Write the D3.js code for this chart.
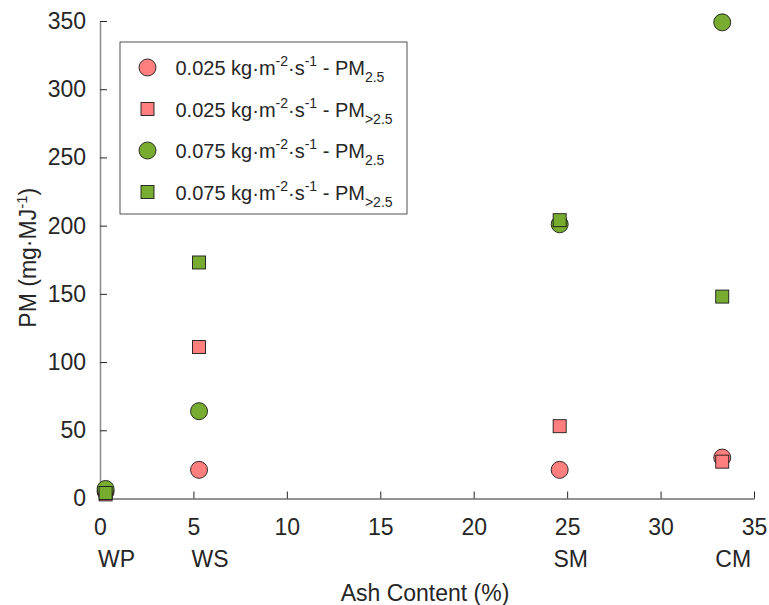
<!DOCTYPE html>
<html>
<head>
<meta charset="utf-8">
<script src="https://cdn.jsdelivr.net/npm/d3@7"></script>
<style>
  body { margin: 0; background: #fff; }
  text { font-family: "Liberation Sans", Arial, sans-serif; fill: #262626; }
</style>
</head>
<body>
<div id="chart"></div>
<script>
// data
var fuels = ["WP", "WS", "SM", "CM"];
var ashContent = [0.3, 5.3, 24.6, 33.3];
var low25 = [5, 21, 21, 30];        // 0.025 kg m-2 s-1, PM2.5
var lowOver25 = [3, 111, 53, 27];   // 0.025 kg m-2 s-1, PM>2.5
var high25 = [7, 64, 201, 349];     // 0.075 kg m-2 s-1, PM2.5
var highOver25 = [4, 173, 204, 148];// 0.075 kg m-2 s-1, PM>2.5
var xTicks = [0, 5, 10, 15, 20, 25, 30, 35];
var yTicks = [0, 50, 100, 150, 200, 250, 300, 350];

var svgWidth = 769, svgHeight = 605;
var margin = {top: 21, right: 15, bottom: 106.5, left: 100};
var width = svgWidth - margin.left - margin.right;
var height = svgHeight - margin.top - margin.bottom;

var pink = "#ff7f7f", green = "#77ac30";

var series = [
  {vals: low25, shape: "circle", color: pink, flow: "0.025", pm: "2.5"},
  {vals: lowOver25, shape: "square", color: pink, flow: "0.025", pm: ">2.5"},
  {vals: high25, shape: "circle", color: green, flow: "0.075", pm: "2.5"},
  {vals: highOver25, shape: "square", color: green, flow: "0.075", pm: ">2.5"}
];

var svg = d3.select("#chart").append("svg")
    .attr("width", svgWidth)
    .attr("height", svgHeight)
  .append("g")
    .attr("transform", "translate(" + margin.left + "," + margin.top + ")");

var x = d3.scaleLinear().domain([0, 35]).range([0, width]);
var y = d3.scaleLinear().domain([0, 350]).range([height, 0]);

// axes, ticks pointing inward like matlab
var xAxis = svg.append("g")
    .attr("transform", "translate(0," + height + ")")
    .call(d3.axisBottom(x).tickValues(xTicks).tickSizeInner(-7).tickSizeOuter(0).tickPadding(20));
var yAxis = svg.append("g")
    .call(d3.axisLeft(y).tickValues(yTicks).tickSizeInner(-7).tickSizeOuter(0).tickPadding(14));

[xAxis, yAxis].forEach(function(a) {
  a.select(".domain").attr("stroke", "#262626").attr("stroke-width", 1.2);
  a.selectAll(".tick line").attr("stroke", "#262626");
  a.selectAll(".tick text").style("font-size", "23px").attr("fill", "#262626")
    .style("font-family", "'Liberation Sans', Arial, sans-serif");
});
yAxis.select(".domain").attr("stroke", "#8a8a8a").attr("stroke-width", 1.5);

// fuel names under the tick labels
svg.append("g").selectAll("text")
  .data(fuels)
  .enter()
  .append("text")
    .attr("x", function(d, i) { return x(ashContent[i]) + 11; })
    .attr("y", height + 68)
    .attr("text-anchor", "middle")
    .style("font-size", "23px")
    .text(function(d) { return d; });

// axis titles
svg.append("text")
    .attr("x", width / 2 - 2)
    .attr("y", height + 102)
    .attr("text-anchor", "middle")
    .style("font-size", "23px")
    .text("Ash Content (%)");

var yl = svg.append("text")
    .attr("transform", "translate(-64," + (height / 2 - 2) + ") rotate(-90)")
    .attr("text-anchor", "middle")
    .style("font-size", "23px");
yl.append("tspan").text("PM (mg·MJ");
yl.append("tspan").attr("dy", -9).style("font-size", "15px").text("-1");
yl.append("tspan").attr("dy", 9).text(")");

// markers
function drawMarker(sel, s) {
  if (s.shape === "circle") {
    sel.append("circle").attr("r", 8.5);
  } else {
    sel.append("rect").attr("x", -6.5).attr("y", -6.5).attr("width", 13).attr("height", 13);
  }
  sel.selectAll("circle, rect")
    .attr("fill", s.color)
    .attr("stroke", "#1a1a1a")
    .attr("stroke-width", 0.9);
}

series.forEach(function(s) {
  svg.append("g").selectAll("g")
    .data(s.vals)
    .enter()
    .append("g")
      .attr("transform", function(d, i) { return "translate(" + x(ashContent[i]) + "," + y(d) + ")"; })
      .each(function() { drawMarker(d3.select(this), s); });
});

// legend
var legend = svg.append("g").attr("transform", "translate(20,21)");
legend.append("rect")
    .attr("width", 287).attr("height", 172)
    .attr("fill", "#fff").attr("stroke", "#262626").attr("stroke-width", 0.8);

series.forEach(function(s, i) {
  var row = legend.append("g").attr("transform", "translate(0," + (25.5 + i * 41.5) + ")");
  var m = row.append("g").attr("transform", "translate(27.5,0)");
  drawMarker(m, s);
  var t = row.append("text").attr("x", 55.5).attr("y", 7.5).style("font-size", "20px");
  t.append("tspan").text(s.flow + " kg·m");
  t.append("tspan").attr("dy", -9).style("font-size", "14px").text("-2");
  t.append("tspan").attr("dy", 9).text("·s");
  t.append("tspan").attr("dy", -9).style("font-size", "14px").text("-1");
  t.append("tspan").attr("dy", 9).text(" - PM");
  t.append("tspan").attr("dy", 7).style("font-size", "14px").text(s.pm);
});
</script>
</body>
</html>
